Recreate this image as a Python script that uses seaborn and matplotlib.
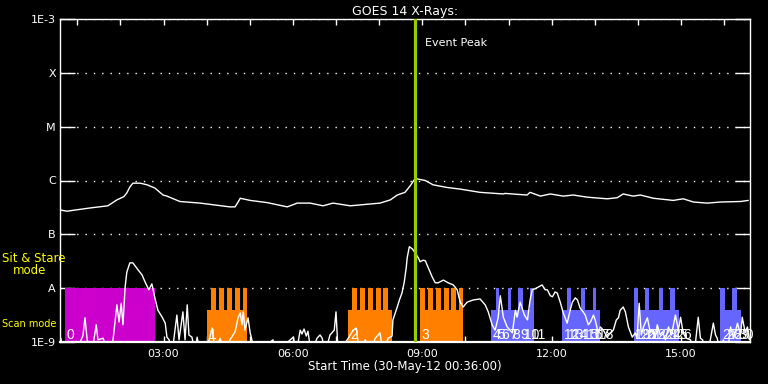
import numpy as np
import matplotlib
matplotlib.use('Agg')
import matplotlib.pyplot as plt
import matplotlib.transforms as mtransforms
from matplotlib.ticker import FixedLocator, NullLocator
import seaborn as sns

# GOES 1-8 A channel (hours since 00:00 on 30-May-12, log10 flux in W/m^2)
long_hours = [0.62, 0.76, 1.30, 1.71, 1.92, 2.08, 2.15, 2.22, 2.29, 2.46,
              2.62, 2.80, 2.99, 3.08, 3.38, 3.85, 4.54, 4.66, 4.73, 4.78,
              5.01, 5.40, 5.87, 6.10, 6.40, 6.70, 6.93, 7.33, 8.02, 8.26,
              8.42, 8.60, 8.72, 8.81, 8.88, 9.07, 9.25, 9.58, 9.88, 10.34,
              10.88, 10.92, 11.43, 11.50, 11.74, 11.97, 12.27, 12.50, 12.83, 13.29,
              13.52, 13.66, 13.89, 14.06, 14.36, 14.82, 15.05, 15.29, 15.61, 15.91,
              16.38, 16.56]
long_logflux = [-6.55, -6.57, -6.51, -6.47, -6.36, -6.30, -6.23, -6.12, -6.05, -6.05,
                -6.08, -6.14, -6.27, -6.29, -6.39, -6.42, -6.49, -6.49, -6.40, -6.33,
                -6.37, -6.41, -6.49, -6.42, -6.42, -6.47, -6.42, -6.47, -6.42, -6.36,
                -6.27, -6.22, -6.10, -5.99, -5.97, -6.00, -6.08, -6.13, -6.16, -6.22,
                -6.25, -6.24, -6.27, -6.22, -6.29, -6.25, -6.29, -6.27, -6.31, -6.34,
                -6.32, -6.25, -6.29, -6.27, -6.33, -6.37, -6.34, -6.40, -6.42, -6.40,
                -6.39, -6.37]

# GOES 0.5-4 A channel
short_hours = [0.62, 0.67, 0.95, 1.13, 1.18, 1.23, 1.34, 1.44, 1.48, 1.60,
               1.71, 1.83, 1.92, 1.97, 2.02, 2.06, 2.11, 2.15, 2.22, 2.29,
               2.41, 2.50, 2.57, 2.66, 2.73, 2.80, 2.87, 2.97, 3.04, 3.08,
               3.13, 3.20, 3.31, 3.36, 3.45, 3.50, 3.55, 3.59, 3.66, 3.73,
               3.78, 3.85, 4.06, 4.13, 4.20, 4.31, 4.43, 4.54, 4.66, 4.73,
               4.78, 4.82, 4.85, 4.89, 4.96, 5.01, 5.05, 5.12, 5.54, 5.60,
               6.01, 6.08, 6.17, 6.21, 6.26, 6.31, 6.35, 6.42, 6.56, 6.63,
               6.68, 6.75, 6.86, 6.96, 7.00, 7.05, 7.26, 7.40, 7.47, 7.54,
               7.68, 7.80, 7.91, 8.02, 8.09, 8.21, 8.30, 8.32, 8.42, 8.47,
               8.53, 8.58, 8.63, 8.65, 8.70, 8.77, 8.84, 8.91, 8.95, 9.02,
               9.07, 9.14, 9.23, 9.30, 9.37, 9.49, 9.60, 9.72, 9.81, 9.88,
               9.95, 10.04, 10.18, 10.34, 10.46, 10.53, 10.62, 10.69, 10.76, 10.81,
               10.88, 10.97, 11.09, 11.16, 11.20, 11.27, 11.37, 11.44, 11.50, 11.55,
               11.62, 11.69, 11.78, 11.85, 11.90, 11.97, 12.02, 12.08, 12.13, 12.20,
               12.27, 12.36, 12.43, 12.48, 12.55, 12.60, 12.66, 12.73, 12.78, 12.85,
               12.90, 12.97, 13.01, 13.08, 13.13, 13.20, 13.29, 13.36, 13.43, 13.50,
               13.55, 13.59, 13.66, 13.71, 13.78, 13.87, 13.94, 13.98, 14.03, 14.08,
               14.13, 14.22, 14.29, 14.33, 14.40, 14.45, 14.52, 14.57, 14.64, 14.71,
               14.78, 14.87, 14.94, 14.99, 15.05, 15.12, 15.22, 15.31, 15.40, 15.45,
               15.50, 15.59, 15.68, 15.75, 15.80, 15.84, 15.91, 15.98, 16.08, 16.15,
               16.22, 16.31, 16.38, 16.42, 16.49, 16.54, 16.59]
short_logflux = [-8.93, -9.2, -9.2, -8.89, -8.55, -8.96, -9.2, -8.68, -8.96, -8.93,
                 -9.2, -8.96, -8.31, -8.63, -8.28, -8.68, -7.98, -7.70, -7.53, -7.53,
                 -7.66, -7.75, -7.88, -8.03, -7.92, -8.18, -8.41, -8.54, -8.65, -8.91,
                 -8.96, -9.2, -8.50, -8.96, -8.44, -8.96, -8.31, -8.87, -8.91, -9.2,
                 -8.91, -9.2, -8.96, -8.74, -9.2, -8.93, -9.2, -8.96, -8.81, -8.55,
                 -8.46, -8.68, -8.44, -8.78, -8.55, -8.83, -8.96, -9.2, -8.96, -9.2,
                 -8.91, -9.2, -8.78, -8.85, -8.76, -8.89, -8.80, -9.2, -8.93, -8.87,
                 -8.93, -9.2, -8.87, -8.78, -8.44, -9.2, -8.96, -8.78, -8.74, -9.2,
                 -8.96, -9.2, -8.93, -8.83, -9.2, -8.93, -8.89, -8.59, -8.35, -8.22,
                 -8.09, -7.90, -7.61, -7.44, -7.23, -7.27, -7.35, -7.44, -7.51, -7.48,
                 -7.49, -7.62, -7.79, -7.90, -7.90, -7.85, -7.90, -7.94, -8.03, -8.26,
                 -8.35, -8.26, -8.22, -8.20, -8.31, -8.44, -8.68, -8.78, -8.55, -8.14,
                 -8.54, -8.72, -8.83, -8.41, -8.54, -8.26, -8.50, -8.59, -8.22, -8.03,
                 -8.01, -7.98, -7.94, -8.03, -8.03, -8.14, -8.16, -8.07, -8.09, -8.26,
                 -8.46, -8.65, -8.41, -8.26, -8.18, -8.22, -8.37, -8.44, -8.50, -8.68,
                 -8.63, -8.50, -8.59, -8.83, -8.72, -8.78, -8.91, -8.83, -8.78, -8.59,
                 -8.55, -8.41, -8.35, -8.44, -8.72, -8.91, -8.83, -8.93, -8.28, -8.87,
                 -8.72, -8.55, -8.83, -8.78, -8.93, -8.68, -8.87, -8.81, -8.96, -8.72,
                 -8.87, -8.50, -8.78, -8.54, -8.83, -8.93, -8.96, -9.2, -8.54, -8.93,
                 -8.96, -9.2, -8.96, -8.65, -8.87, -8.93, -9.2, -8.96, -9.2, -8.72,
                 -8.93, -8.65, -8.87, -8.54, -8.83, -8.72, -8.96]

# observations (numbered 0..30)
obs_start = [0.72, 4.01, 7.28, 8.95,
             10.60, 10.71, 10.79, 10.98, 11.06, 11.23, 11.33, 11.49,
             12.24, 12.35, 12.44, 12.69, 12.78, 12.95, 13.04,
             13.90, 14.01, 14.16, 14.25, 14.50, 14.59, 14.75, 14.86,
             15.91, 16.02, 16.19, 16.30]
obs_end = [2.80, 4.94, 8.30, 9.95,
           10.71, 10.79, 10.98, 11.06, 11.23, 11.33, 11.49, 11.58,
           12.35, 12.44, 12.69, 12.78, 12.95, 13.04, 13.13,
           14.01, 14.16, 14.25, 14.50, 14.59, 14.75, 14.86, 14.95,
           16.02, 16.19, 16.30, 16.40]
obs_kind = ['stare', 'raster', 'raster', 'raster',
            'low', 'tall', 'low', 'tall', 'low', 'tall', 'low', 'tall',
            'low', 'tall', 'low', 'tall', 'low', 'tall', 'low',
            'tall', 'low', 'tall', 'low', 'tall', 'low', 'tall', 'low',
            'tall', 'low', 'tall', 'low']
raster_teeth = {1: [4.10, 4.29, 4.47, 4.66, 4.85],
                2: [7.37, 7.56, 7.75, 7.93, 8.09],
                3: [8.95, 9.14, 9.32, 9.51, 9.67, 9.86]}
tooth_width = 0.11

peak_hour = 8.84
class_ticks = [1e-9, 1e-8, 1e-7, 1e-6, 1e-5, 1e-4, 1e-3]
class_labels = ['1E-9', 'A', 'B', 'C', 'M', 'X', '1E-3']
hour_ticks = [3, 6, 9, 12, 15]
hour_labels = ['03:00', '06:00', '09:00', '12:00', '15:00']

kind_color = {'stare': '#cc00cc', 'raster': '#ff8000', 'low': '#6666ff', 'tall': '#6666ff'}
kind_top = {'stare': 1e-8, 'raster': 10 ** -8.41, 'low': 10 ** -8.41, 'tall': 1e-8}
floor = 1e-10

sns.set_theme(style='dark', rc={'axes.facecolor': 'black', 'figure.facecolor': 'black',
                                'axes.edgecolor': 'white', 'text.color': 'white'})
plt.rcParams['font.family'] = ['DejaVu Sans']

fig = plt.figure(figsize=(7.68, 3.84), dpi=100)
ax = fig.add_axes([60 / 768, 42 / 384, 690 / 768, 323 / 384])
ax.set_facecolor('black')
ax.set_yscale('log')

# observation blocks
for i in range(len(obs_start)):
    k = obs_kind[i]
    ax.bar(obs_start[i], kind_top[k] - floor, bottom=floor, width=obs_end[i] - obs_start[i],
           align='edge', color=kind_color[k], linewidth=0, zorder=2)
    if k == 'raster':
        for t in raster_teeth[i]:
            w = min(tooth_width, obs_end[i] - t)
            ax.bar(t, 1e-8 - floor, bottom=floor, width=w, align='edge',
                   color=kind_color[k], linewidth=0, zorder=2)

sns.lineplot(x=long_hours, y=10 ** np.array(long_logflux), ax=ax, color='white',
             linewidth=1, estimator=None, sort=False, zorder=3)
sns.lineplot(x=short_hours, y=10 ** np.array(short_logflux), ax=ax, color='white',
             linewidth=1, estimator=None, sort=False, zorder=3)

for i in range(len(obs_start)):
    ax.text(obs_start[i] + 0.04, 10 ** -8.95, str(i), color='white', fontsize=10,
            family='Liberation Sans', ha='left', va='baseline', zorder=4)

ax.axvline(peak_hour, color='#99cc00', linewidth=2.3, zorder=5)
trans = mtransforms.blended_transform_factory(ax.transData, ax.transAxes)
ax.text(peak_hour + 0.22, 0.926, 'Event Peak', transform=trans, color='white',
        fontsize=8, ha='left', va='center')

ax.set_xlim(0.6, 16.6)
ax.set_ylim(1e-9, 1e-3)
ax.xaxis.set_major_locator(FixedLocator(hour_ticks))
ax.set_xticklabels(hour_labels)
ax.xaxis.set_minor_locator(FixedLocator(list(range(1, 17))))
ax.yaxis.set_major_locator(FixedLocator(class_ticks))
ax.set_yticklabels(class_labels)
ax.yaxis.set_minor_locator(NullLocator())

ax.tick_params(axis='x', which='both', direction='in', length=4, width=1, color='white',
               labelcolor='white', labelsize=8, top=True, bottom=True, pad=5)
ax.tick_params(axis='y', which='major', direction='in', length=10.5, width=1, color='white',
               labelcolor='white', labelsize=8, left=True, right=True, pad=3)
ax.grid(axis='y', color='white', linestyle=(0, (1, 5)), linewidth=1)
ax.grid(axis='x', visible=False)
ax.set_axisbelow(True)
for s in ax.spines.values():
    s.set_color('white')
    s.set_linewidth(1)
ax.spines['bottom'].set_linewidth(1.6)

ax.set_title('GOES 14 X-Rays:', color='white', fontsize=9, pad=3)
ax.set_xlabel('Start Time (30-May-12 00:36:00)', color='white', fontsize=8.5, labelpad=1)
ax.set_ylabel('')

fig.text(2 / 768, 1 - 259 / 384, 'Sit & Stare', color='yellow', fontsize=8.5, ha='left', va='center')
fig.text(13 / 768, 1 - 271 / 384, 'mode', color='yellow', fontsize=8.5, ha='left', va='center')
fig.text(2 / 768, 1 - 324 / 384, 'Scan mode', color='yellow', fontsize=7, ha='left', va='center')

fig.savefig('out.png', dpi=100, facecolor='black')
